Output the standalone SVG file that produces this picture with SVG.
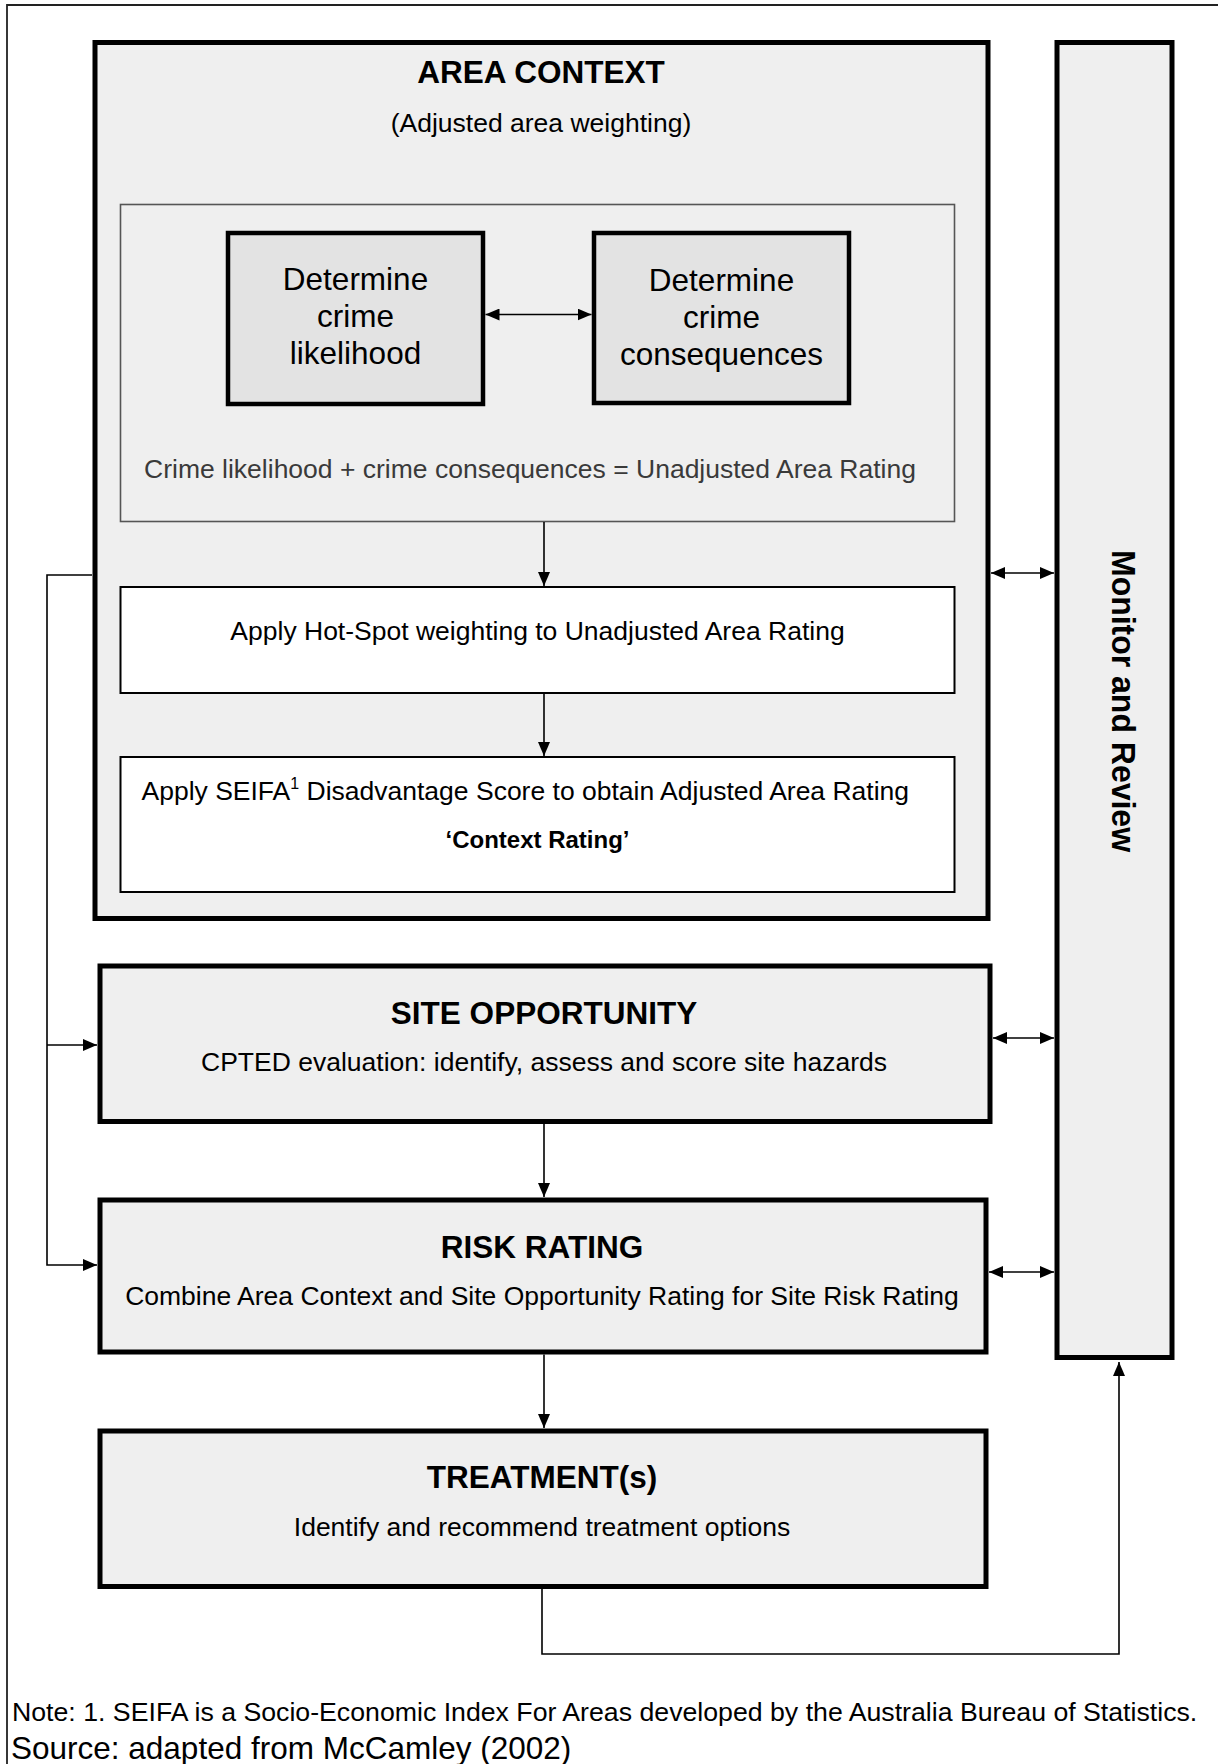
<svg xmlns="http://www.w3.org/2000/svg" width="1218" height="1764" viewBox="0 0 1218 1764">
<style>
  text { font-family: "Liberation Sans", Arial, Helvetica, sans-serif; fill: #000; }
  .t { font-size: 31.5px; font-weight: bold; text-anchor: middle; }
  .r { font-size: 26.5px; text-anchor: middle; }
  .d { font-size: 31.5px; text-anchor: middle; }
  .box { fill: #efefef; stroke: #000; stroke-width: 5; }
  .dbox { fill: #e3e3e3; stroke: #000; stroke-width: 4.5; }
  .wbox { fill: #fff; stroke: #000; stroke-width: 2; }
  .ibox { fill: #efefef; stroke: #555; stroke-width: 1.6; }
  .c { fill: none; stroke: #000; stroke-width: 1.6; }
</style>
<defs>
  <marker id="ah" viewBox="0 0 14 12" refX="14" refY="6" markerWidth="14" markerHeight="12" markerUnits="userSpaceOnUse" orient="auto-start-reverse">
    <path d="M0,0 L14,6 L0,12 z" fill="#000"/>
  </marker>
</defs>

<!-- outer frame -->
<path d="M7,1764 V5 H1218" fill="none" stroke="#222" stroke-width="1.8"/>

<g id="area-context">
  <rect class="box" x="95" y="42.5" width="893" height="876"/>
  <text class="t" x="541" y="83">AREA CONTEXT</text>
  <text class="r" x="541" y="131.5">(Adjusted area weighting)</text>
</g>

<g id="unadjusted">
  <rect class="ibox" x="120.5" y="204.5" width="834" height="317"/>
  <text class="r" x="530" y="478" style="fill:#3a3a3a">Crime likelihood + crime consequences = Unadjusted Area Rating</text>
</g>

<g id="likelihood">
  <rect class="dbox" x="228" y="233" width="255" height="171"/>
  <text class="d" x="355.5" y="290">Determine</text>
  <text class="d" x="355.5" y="327">crime</text>
  <text class="d" x="355.5" y="364">likelihood</text>
</g>

<g id="consequences">
  <rect class="dbox" x="594" y="233" width="255" height="170"/>
  <text class="d" x="721.5" y="291">Determine</text>
  <text class="d" x="721.5" y="328">crime</text>
  <text class="d" x="721.5" y="364.5">consequences</text>
</g>

<g id="hotspot">
  <rect class="wbox" x="120.5" y="587" width="834" height="106"/>
  <text class="r" x="537.5" y="640">Apply Hot-Spot weighting to Unadjusted Area Rating</text>
</g>

<g id="seifa">
  <rect class="wbox" x="120.5" y="757" width="834" height="135"/>
  <text x="141.5" y="800" style="font-size:26.5px">Apply SEIFA<tspan dy="-11" style="font-size:16px">1</tspan><tspan dy="11"> Disadvantage Score to obtain Adjusted Area Rating</tspan></text>
  <text x="537.5" y="848" style="font-size:24px;font-weight:bold;text-anchor:middle">‘Context Rating’</text>
</g>

<g id="monitor">
  <rect class="box" x="1057" y="42.5" width="115" height="1315"/>
  <text transform="translate(1112,701) rotate(90)" style="font-size:34px;font-weight:bold;text-anchor:middle" textLength="302" lengthAdjust="spacingAndGlyphs">Monitor and Review</text>
</g>

<g id="site-opportunity">
  <rect class="box" x="100" y="966" width="890" height="155.5"/>
  <text class="t" x="544" y="1024">SITE OPPORTUNITY</text>
  <text class="r" x="544" y="1070.5">CPTED evaluation: identify, assess and score site hazards</text>
</g>

<g id="risk-rating">
  <rect class="box" x="100" y="1200" width="886" height="152"/>
  <text class="t" x="542" y="1257.5">RISK RATING</text>
  <text class="r" x="542" y="1304.5">Combine Area Context and Site Opportunity Rating for Site Risk Rating</text>
</g>

<g id="treatment">
  <rect class="box" x="100" y="1431" width="886" height="155.5"/>
  <text class="t" x="542" y="1487.5">TREATMENT(s)</text>
  <text class="r" x="542" y="1535.5">Identify and recommend treatment options</text>
</g>

<g id="connectors">
  <path class="c" d="M485.5,314.5 H591.5" marker-start="url(#ah)" marker-end="url(#ah)"/>
  <path class="c" d="M544,522 V586" marker-end="url(#ah)"/>
  <path class="c" d="M544,693 V756" marker-end="url(#ah)"/>
  <path class="c" d="M991,573 H1054" marker-start="url(#ah)" marker-end="url(#ah)"/>
  <path class="c" d="M993,1038 H1054" marker-start="url(#ah)" marker-end="url(#ah)"/>
  <path class="c" d="M989,1272 H1054" marker-start="url(#ah)" marker-end="url(#ah)"/>
  <path class="c" d="M544,1124 V1197" marker-end="url(#ah)"/>
  <path class="c" d="M544,1354.5 V1428" marker-end="url(#ah)"/>
  <path class="c" d="M92,575 H47 V1265 H97" marker-end="url(#ah)"/>
  <path class="c" d="M47,1045 H97" marker-end="url(#ah)"/>
  <path class="c" d="M542,1589 V1654 H1119 V1362" marker-end="url(#ah)"/>
</g>

<g id="notes">
  <text x="12" y="1721" style="font-size:26.7px">Note: 1. SEIFA is a Socio-Economic Index For Areas developed by the Australia Bureau of Statistics.</text>
  <text x="11" y="1759" style="font-size:31.5px">Source: adapted from McCamley (2002)</text>
</g>
</svg>
